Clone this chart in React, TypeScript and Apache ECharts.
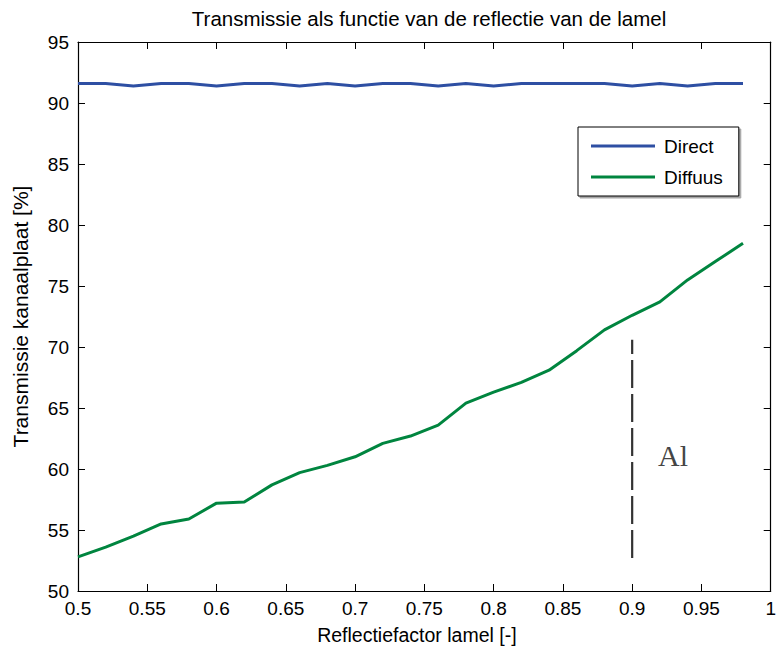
import React, { useEffect, useRef } from "react";
import * as echarts from "echarts";

const reflectie = [0.5, 0.52, 0.54, 0.56, 0.58, 0.6, 0.62, 0.64, 0.66, 0.68, 0.7, 0.72, 0.74, 0.76, 0.78, 0.8, 0.82, 0.84, 0.86, 0.88, 0.9, 0.92, 0.94, 0.96, 0.98];
const direct = [91.6, 91.6, 91.4, 91.6, 91.6, 91.4, 91.6, 91.6, 91.4, 91.6, 91.4, 91.6, 91.6, 91.4, 91.6, 91.4, 91.6, 91.6, 91.6, 91.6, 91.4, 91.6, 91.4, 91.6, 91.6];
const diffuus = [52.8, 53.6, 54.5, 55.5, 55.9, 57.2, 57.3, 58.7, 59.7, 60.3, 61.0, 62.1, 62.7, 63.6, 65.4, 66.3, 67.1, 68.1, 69.7, 71.4, 72.6, 73.7, 75.5, 77.0, 78.5];
const alMarkerX = [0.9, 0.9];
const alMarkerY = [52.7, 70.6];
const alLabel = { x: 0.9295, y: 61.1, text: "Al" };

const FONT = "'Liberation Sans', Arial, sans-serif";

export default function App() {
  const ref = useRef<HTMLDivElement>(null);
  useEffect(() => {
    if (!ref.current) return;
    const chart = echarts.init(ref.current, null, { renderer: "svg" });
    const fmt = (v: number) => String(Number(v.toFixed(2)));
    const axisLine = { show: true, lineStyle: { color: "#000", width: 1.2 } };
    const tick = { show: true, inside: true, length: 7, lineStyle: { color: "#000", width: 1 } };
    chart.setOption({
      animation: false,
      backgroundColor: "#fff",
      title: {
        text: "Transmissie als functie van de reflectie van de lamel",
        left: 424,
        textAlign: "center",
        top: 3,
        textStyle: { fontFamily: FONT, fontSize: 20.5, fontWeight: "normal", color: "#000" },
      },
      legend: {
        data: ["Direct", "Diffuus"],
        orient: "vertical",
        left: 578,
        top: 127,
        icon: "rect",
        itemWidth: 64,
        itemHeight: 3,
        itemGap: 11,
        padding: [9, 16, 9, 13],
        borderColor: "#000",
        borderWidth: 1,
        backgroundColor: "#fff",
        shadowColor: "rgba(0,0,0,0.35)",
        shadowOffsetX: 2,
        shadowOffsetY: 2,
        shadowBlur: 1,
        textStyle: { fontFamily: FONT, fontSize: 19, color: "#000", lineHeight: 20, padding: [0, 0, 0, 4] },
      },
      grid: { left: 78, right: 8, top: 42, bottom: 59, containLabel: false },
      xAxis: [
        {
          type: "value",
          min: 0.5,
          max: 1,
          interval: 0.05,
          position: "bottom",
          name: "Reflectiefactor lamel [-]",
          nameLocation: "middle",
          nameGap: 34,
          nameTextStyle: { fontFamily: FONT, fontSize: 19.5, color: "#000", padding: [0, 15, 0, 0] },
          axisLine,
          axisTick: tick,
          splitLine: { show: false },
          axisLabel: { fontFamily: FONT, fontSize: 19, color: "#000", margin: 8, formatter: fmt },
        },
        {
          type: "value",
          min: 0.5,
          max: 1,
          interval: 0.05,
          position: "top",
          axisLine,
          axisTick: tick,
          splitLine: { show: false },
          axisLabel: { show: false },
        },
      ],
      yAxis: [
        {
          type: "value",
          min: 50,
          max: 95,
          interval: 5,
          position: "left",
          name: "Transmissie kanaalplaat [%]",
          nameLocation: "middle",
          nameGap: 47,
          nameTextStyle: { fontFamily: FONT, fontSize: 21, color: "#000" },
          axisLine,
          axisTick: tick,
          splitLine: { show: false },
          axisLabel: { fontFamily: FONT, fontSize: 19, color: "#000", margin: 9 },
        },
        {
          type: "value",
          min: 50,
          max: 95,
          interval: 5,
          position: "right",
          axisLine,
          axisTick: tick,
          splitLine: { show: false },
          axisLabel: { show: false },
        },
      ],
      series: [
        {
          name: "Direct",
          type: "line",
          symbol: "none",
          data: reflectie.map((x, i) => [x, direct[i]]),
          lineStyle: { color: "#2E4FA3", width: 3 },
          itemStyle: { color: "#2E4FA3" },
        },
        {
          name: "Diffuus",
          type: "line",
          symbol: "none",
          data: reflectie.map((x, i) => [x, diffuus[i]]),
          lineStyle: { color: "#00853F", width: 3 },
          itemStyle: { color: "#00853F" },
        },
        {
          name: "Al-lijn",
          type: "line",
          symbol: "none",
          data: alMarkerX.map((x, i) => [x, alMarkerY[i]]),
          lineStyle: { color: "#333", width: 2.2, type: [28, 6] },
          itemStyle: { color: "#333" },
        },
        {
          name: "Al-label",
          type: "scatter",
          symbolSize: 0,
          data: [[alLabel.x, alLabel.y]],
          label: {
            show: true,
            position: "inside",
            formatter: alLabel.text,
            fontFamily: "'Liberation Serif', 'Times New Roman', serif",
            fontSize: 30,
            color: "#111",
          },
        },
      ],
    });
    return () => chart.dispose();
  }, []);
  return <div ref={ref} style={{ width: 779, height: 650, position: "absolute", left: 0, top: 0 }} />;
}
